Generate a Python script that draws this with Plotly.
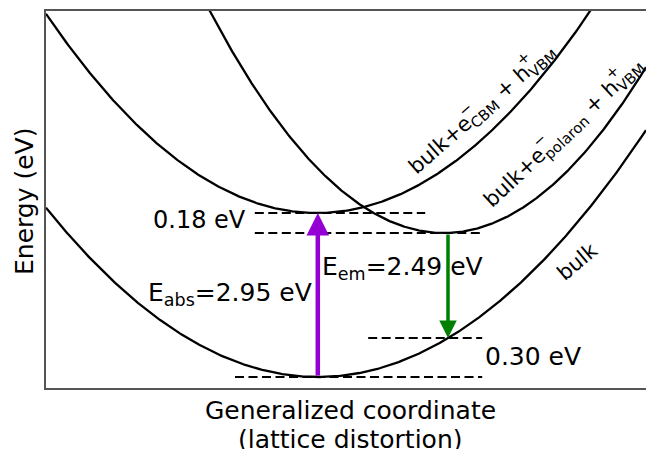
import numpy as np
import plotly.graph_objects as go

# ---------------- data ----------------
curve_names = ["bulk", "bulk+e_CBM + h_VBM", "bulk+e_polaron + h_VBM"]
curve_x0 = [4.53, 4.52, 6.63]      # position of minimum (generalized coordinate)
curve_e0 = [0.00, 3.28, 2.88]      # energy of minimum (schematic units)
curve_k = [0.165, 0.195, 0.292]    # curvature

level_e = [3.28, 2.88, 0.78, 0.00]
level_x_start = [3.48, 3.48, 5.37, 3.15]
level_x_end = [6.32, 7.27, 7.27, 7.27]

abs_x, abs_from, abs_to = 4.53, 0.00, 3.28
em_x, em_from, em_to = 6.70, 2.88, 0.78

x_range = [0, 10]
y_range = [-0.22, 7.32]

W, H = 646, 449
ML, MT, MB, MR = 46, 11, 61, 0
PW, PH = W - ML - MR, H - MT - MB
FONT = "DejaVu Sans"


def px2paper(px, py):
    return (px - ML) / PW, (H - MB - py) / PH


fig = go.Figure()

xs = np.linspace(x_range[0], x_range[1], 600)
for name, x0, e0, k in zip(curve_names, curve_x0, curve_e0, curve_k):
    fig.add_trace(go.Scatter(x=xs, y=e0 + k * (xs - x0) ** 2, mode="lines",
                             line=dict(color="black", width=2.3), name=name,
                             showlegend=False, hoverinfo="skip"))

for e, xa, xb in zip(level_e, level_x_start, level_x_end):
    fig.add_trace(go.Scatter(x=[xa, xb], y=[e, e], mode="lines",
                             line=dict(color="black", width=2, dash="9px,4.5px"),
                             showlegend=False, hoverinfo="skip"))

ann = []


def text_px(txt, px, py, size=25, xanchor="center", yanchor="middle", angle=0):
    xp, yp = px2paper(px, py)
    ann.append(dict(text=txt, x=xp, y=yp, xref="paper", yref="paper",
                    xanchor=xanchor, yanchor=yanchor, showarrow=False,
                    textangle=angle, font=dict(family=FONT, size=size, color="black")))


def rotated_label(main, sups, cx, cy, theta, size=21):
    text_px(main, cx, cy, size=size, angle=-theta)
    t = np.deg2rad(theta)
    d = np.array([np.cos(t), -np.sin(t)])
    up = np.array([-np.sin(t), -np.cos(t)])
    for s, along, normal in sups:
        p = np.array([cx, cy]) + along * size * d + normal * size * up
        text_px(s, p[0], p[1], size=int(size * 0.72), angle=-theta)


# energy labels
text_px("0.18 eV", 248, 220, size=24, xanchor="right")
text_px("0.30 eV", 483, 356, xanchor="left")
text_px("E<sub>abs</sub>=2.95 eV", 146, 294, xanchor="left")
text_px("E<sub>em</sub>=2.49 eV", 320, 268, xanchor="left")

# curve labels
rotated_label("bulk+e<sub>CBM</sub> + h<sub>VBM</sub>",
              [("\u2212", -0.55, 0.55), ("+", 3.12, 0.55)], 482, 110, 41)
rotated_label("bulk+e<sub>polaron</sub> + h<sub>VBM</sub>",
              [("\u2212", -1.08, 0.55), ("+", 3.66, 0.55)], 564, 133, 43)
text_px("bulk", 577, 262, size=21, angle=-40)

# axis titles
text_px("Energy (eV)", 25, 202, angle=-90)
text_px("Generalized coordinate", 350, 410)
text_px("(lattice distortion)", 350, 439)

# arrows
ann.append(dict(x=abs_x, y=abs_to, ax=abs_x, ay=abs_from, xref="x", yref="y",
                axref="x", ayref="y", text="", showarrow=True, arrowhead=2,
                arrowsize=1, arrowwidth=4.5, arrowcolor="#9400D3", standoff=0))
ann.append(dict(x=em_x, y=em_to, ax=em_x, ay=em_from, xref="x", yref="y",
                axref="x", ayref="y", text="", showarrow=True, arrowhead=2,
                arrowsize=1, arrowwidth=3.5, arrowcolor="#008000", standoff=0))

fig.update_layout(
    width=W, height=H, margin=dict(l=ML, r=MR, t=MT, b=MB),
    paper_bgcolor="white", plot_bgcolor="white",
    annotations=ann, showlegend=False,
    xaxis=dict(range=x_range, showgrid=False, zeroline=False, showticklabels=False,
               ticks="", showline=True, linecolor="#555", linewidth=2, mirror=True,
               fixedrange=True),
    yaxis=dict(range=y_range, showgrid=False, zeroline=False, showticklabels=False,
               ticks="", showline=True, linecolor="#555", linewidth=2, mirror=False,
               fixedrange=True),
)

fig.write_html(
    "out.html",
    config={"displayModeBar": False},
    post_script="document.body.style.margin='0';document.body.style.padding='0';"
                "document.body.style.overflow='hidden';"
                "document.documentElement.style.overflow='hidden';",
)
